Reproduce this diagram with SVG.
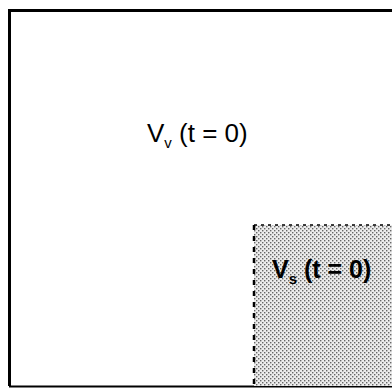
<svg xmlns="http://www.w3.org/2000/svg" width="392" height="388" viewBox="0 0 392 388">
<style>
.lbl{font-family:"Liberation Sans",Arial,sans-serif;font-size:26px;fill:#000}
.b{font-weight:bold;font-size:25px}
.sub{font-size:15px}
</style>
<defs>
<pattern id="dots" x="0" y="0" width="4" height="4" patternUnits="userSpaceOnUse">
<rect width="4" height="4" fill="#ececec"/>
<rect x="0" y="0" width="1.4" height="1.4" fill="#666"/>
<rect x="2" y="2" width="1.4" height="1.4" fill="#666"/>
</pattern>
</defs>
<rect width="392" height="388" fill="#fff"/>
<g id="outer">
<path d="M9.5,386 V10.5 H392" fill="none" stroke="#000" stroke-width="3"/>
<path d="M9,386.5 H392" fill="none" stroke="#000" stroke-width="2"/>
</g>
<g id="solid">
<rect x="254" y="225" width="140" height="161" fill="url(#dots)"/>
<path d="M254,225 H392" fill="none" stroke="#000" stroke-width="1.5" stroke-dasharray="3,4"/>
<path d="M254,225 V386" fill="none" stroke="#000" stroke-width="2.5" stroke-dasharray="5,6"/>
</g>
<g id="labels">
<text class="lbl" x="147" y="142">V<tspan class="sub" dy="6">v</tspan><tspan dy="-6"> (t = 0)</tspan></text>
<text class="lbl b" x="272" y="278">V<tspan class="sub" dy="6">s</tspan><tspan dy="-6"> (t = 0)</tspan></text>
</g>
</svg>
